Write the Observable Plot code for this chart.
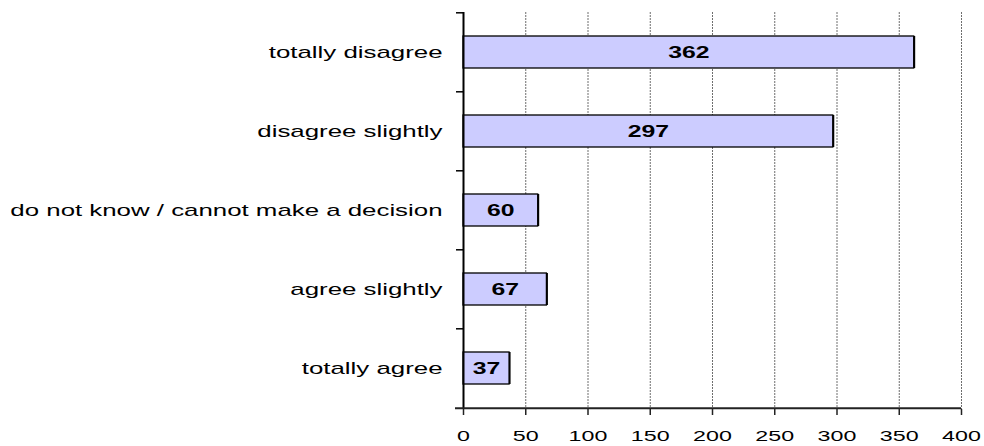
<!DOCTYPE html>
<html>
<head>
<meta charset="utf-8">
<script src="https://cdn.jsdelivr.net/npm/d3@7"></script>
<script src="https://cdn.jsdelivr.net/npm/@observablehq/plot@0.6"></script>
<style>
  html, body { margin: 0; padding: 0; background: #ffffff; }
  #chart svg { display: block; }
</style>
</head>
<body>
<div id="chart"></div>
<script>
// Survey answers, top to bottom, with their counts
const categories = [
  "totally disagree",
  "disagree slightly",
  "do not know / cannot make a decision",
  "agree slightly",
  "totally agree"
];
const counts = [362, 297, 60, 67, 37];
const xTicks = [0, 50, 100, 150, 200, 250, 300, 350, 400];
const gridTicks = [50, 100, 150, 200, 250, 300, 350, 400];

const data = categories.map((category, i) => ({category, count: counts[i]}));

const W = 984, H = 446;
const mTop = 12, mBottom = 37, mLeft = 463, mRight = 23;
// height of one category band in pixels (used to shift ticks to band edges)
const step = (H - mTop - mBottom) / categories.length;

const chart = Plot.plot({
  width: W,
  height: H,
  marginTop: mTop,
  marginBottom: mBottom,
  marginLeft: mLeft,
  marginRight: mRight,
  style: {fontFamily: "'Liberation Sans', Arial, sans-serif", background: "#ffffff", color: "#000"},
  x: {domain: [0, 400], label: null},
  y: {domain: categories, paddingInner: 0.59, paddingOuter: 0.295, align: 0.5, label: null},
  marks: [
    // dashed vertical grid
    Plot.ruleX(gridTicks, {x: d => d, stroke: "#6e6e6e", strokeWidth: 1, strokeDasharray: "2,1"}),
    // thin shadow on the right of each bar
    Plot.barX(data, {x: "count", y: "category", fill: "#000", dx: 1.5}),
    Plot.barX(data, {x: "count", y: "category", fill: "#ccccff", stroke: "#000", strokeWidth: 1.3}),
    Plot.text(data, {
      x: d => d.count / 2,
      y: "category",
      text: d => String(d.count),
      fontWeight: "bold",
      fontSize: 16.5,
      fill: "#000",
      className: "bar-label"
    }),
    // vertical axis line
    Plot.ruleX([0], {stroke: "#000", strokeWidth: 2}),
    // category separator ticks on the vertical axis
    Plot.ruleY(categories, {y: d => d, x1: 0, x2: 0, insetLeft: -7, dy: -step / 2, stroke: "#000", strokeWidth: 1.5}),
    // horizontal axis line, extending a little left of zero
    Plot.ruleY([categories[categories.length - 1]], {y: d => d, x1: 0, x2: 400, insetLeft: -8, dy: step / 2, stroke: "#222", strokeWidth: 2}),
    Plot.axisX({ticks: xTicks, tickSize: 6, tickPadding: 14, fontSize: 15.5, stroke: "#222", strokeWidth: 1.5, label: null}),
    Plot.axisY({tickSize: 0, tickPadding: 21, fontSize: 17, label: null, className: "cat-axis"})
  ]
});

document.getElementById("chart").appendChild(chart);

// widen every label horizontally around its own anchor point
chart.querySelectorAll("text").forEach(el => {
  const k = el.closest(".cat-axis") ? 1.52 : 1.5;
  const orig = el.getAttribute("transform") || "";
  const c = el.transform.baseVal.consolidate();
  const m = c ? c.matrix : {e: 0, f: 0};
  const x = el.x.baseVal.numberOfItems ? el.x.baseVal.getItem(0).value : 0;
  const y = el.y.baseVal.numberOfItems ? el.y.baseVal.getItem(0).value : 0;
  const ax = m.e + x, ay = m.f + y;
  el.setAttribute("transform", `translate(${ax},${ay}) scale(${k},1) translate(${-ax},${-ay}) ${orig}`.trim());
});
</script>
</body>
</html>
